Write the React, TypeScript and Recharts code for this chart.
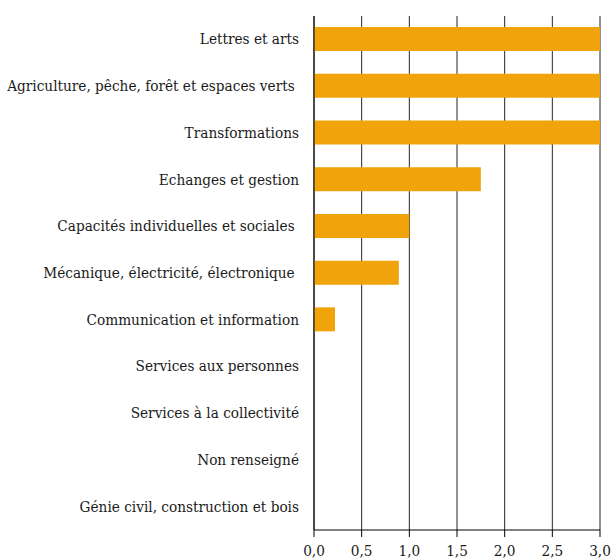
import { BarChart, Bar, XAxis, YAxis, CartesianGrid } from "recharts"

const categories = [
    "Lettres et arts",
    "Agriculture, pêche, forêt et espaces verts ",
    "Transformations",
    "Echanges et gestion",
    "Capacités individuelles et sociales ",
    "Mécanique, électricité, électronique ",
    "Communication et information",
    "Services aux personnes",
    "Services à la collectivité",
    "Non renseigné",
    "Génie civil, construction et bois",
]

const values = [3, 3, 3, 1.75, 1, 0.89, 0.22, 0, 0, 0, 0]

const xTicks = [0, 0.5, 1, 1.5, 2, 2.5, 3]

// boundaries between the category bands, for the small left ticks
const bandEdges = [0, 1, 2, 3, 4, 5, 6, 7, 8, 9, 10, 11]

const data = categories.map((name, i) => ({ name, value: values[i] }))

const font = "'DejaVu Serif Condensed', 'DejaVu Serif', serif"

function CategoryTick({ x, y, payload }: any) {
    return (
        <text
            x={x}
            y={y}
            textAnchor="end"
            dominantBaseline="central"
            fontSize={15.2}
            fill="#1a1a1a"
            style={{ whiteSpace: "pre", fontFamily: font }}
        >
            {payload.value}
        </text>
    )
}

function ValueTick({ x, y, payload }: any) {
    return (
        <text
            x={x}
            y={y}
            dy="0.71em"
            textAnchor="middle"
            fontSize={15.2}
            fill="#1a1a1a"
            style={{ fontFamily: font }}
        >
            {payload.value.toFixed(1).replace(".", ",")}
        </text>
    )
}

export default function App() {
    return (
        <div style={{ position: "absolute", left: 0, top: 0, background: "#fff" }}>
            <BarChart
                width={611}
                height={559}
                data={data}
                layout="vertical"
                margin={{ top: 16, right: 11, left: 0, bottom: 0 }}
            >
                <CartesianGrid horizontal={false} stroke="#000" strokeOpacity={0.85} />
                <XAxis
                    type="number"
                    domain={[0, 3]}
                    ticks={xTicks}
                    height={29}
                    tickSize={7}
                    tickMargin={8}
                    stroke="#000"
                    tick={<ValueTick />}
                />
                <YAxis
                    yAxisId="edges"
                    type="number"
                    domain={[0, 11]}
                    ticks={bandEdges}
                    width={0}
                    tickSize={12}
                    tick={false}
                    axisLine={false}
                    stroke="#000"
                />
                <YAxis
                    type="category"
                    dataKey="name"
                    width={314}
                    tickSize={12}
                    tickMargin={3}
                    tickLine={false}
                    stroke="#000"
                    tick={<CategoryTick />}
                />
                <Bar dataKey="value" fill="#F0A30A" barSize={24} isAnimationActive={false} />
            </BarChart>
        </div>
    )
}
